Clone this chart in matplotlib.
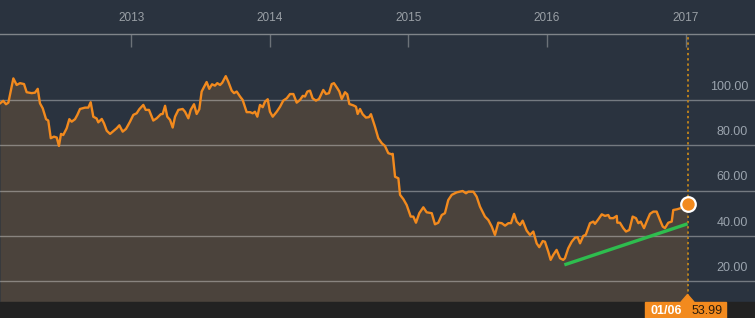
import matplotlib
matplotlib.use("Agg")
import matplotlib.pyplot as plt
from matplotlib.patches import Rectangle, Polygon

# WTI-style weekly closes, x as decimal year
years = [
    2012.052, 2012.075, 2012.095, 2012.112, 2012.148, 2012.172, 2012.196, 2012.225,
    2012.244, 2012.280, 2012.304, 2012.324, 2012.340, 2012.360, 2012.384, 2012.400,
    2012.418, 2012.441, 2012.461, 2012.477, 2012.492, 2012.508, 2012.533, 2012.552,
    2012.569, 2012.593, 2012.610, 2012.629, 2012.665, 2012.689, 2012.706, 2012.725,
    2012.749, 2012.761, 2012.786, 2012.802, 2012.822, 2012.846, 2012.869, 2012.894,
    2012.913, 2012.937, 2012.961, 2012.990, 2013.014, 2013.038, 2013.057, 2013.086,
    2013.103, 2013.127, 2013.158, 2013.183, 2013.212, 2013.226, 2013.243, 2013.259,
    2013.279, 2013.298, 2013.315, 2013.339, 2013.370, 2013.387, 2013.411, 2013.428,
    2013.452, 2013.471, 2013.490, 2013.507, 2013.543, 2013.562, 2013.582, 2013.603,
    2013.620, 2013.640, 2013.656, 2013.681, 2013.699, 2013.724, 2013.741, 2013.760,
    2013.784, 2013.803, 2013.832, 2013.856, 2013.876, 2013.892, 2013.909, 2013.928,
    2013.948, 2013.964, 2013.984, 2014.000, 2014.020, 2014.049, 2014.073, 2014.096,
    2014.121, 2014.145, 2014.169, 2014.193, 2014.217, 2014.237, 2014.253, 2014.270,
    2014.289, 2014.308, 2014.332, 2014.354, 2014.368, 2014.385, 2014.405, 2014.426,
    2014.446, 2014.462, 2014.486, 2014.501, 2014.518, 2014.542, 2014.558, 2014.573,
    2014.602, 2014.621, 2014.633, 2014.650, 2014.669, 2014.693, 2014.715, 2014.729,
    2014.758, 2014.782, 2014.807, 2014.830, 2014.854, 2014.879, 2014.886, 2014.903,
    2014.927, 2014.939, 2014.963, 2014.987, 2015.016, 2015.035, 2015.054, 2015.078,
    2015.107, 2015.131, 2015.168, 2015.191, 2015.215, 2015.240, 2015.263, 2015.287,
    2015.312, 2015.348, 2015.391, 2015.415, 2015.432, 2015.468, 2015.492, 2015.516,
    2015.552, 2015.576, 2015.601, 2015.624, 2015.648, 2015.673, 2015.697, 2015.721,
    2015.740, 2015.762, 2015.781, 2015.805, 2015.824, 2015.853, 2015.877, 2015.901,
    2015.925, 2015.944, 2015.969, 2015.985, 2016.009, 2016.026, 2016.045, 2016.069,
    2016.094, 2016.117, 2016.129, 2016.153, 2016.178, 2016.202, 2016.221, 2016.238,
    2016.262, 2016.279, 2016.310, 2016.334, 2016.346, 2016.370, 2016.395, 2016.418,
    2016.442, 2016.454, 2016.478, 2016.503, 2016.507, 2016.526, 2016.550, 2016.570,
    2016.594, 2016.618, 2016.642, 2016.659, 2016.676, 2016.700, 2016.719, 2016.743,
    2016.767, 2016.791, 2016.815, 2016.835, 2016.851, 2016.875, 2016.900, 2016.911,
    2016.936, 2016.959, 2016.983, 2017.014,
]
prices = [
    98.5, 99.6, 98.1, 98.8, 109.5, 106.6, 107.4, 107.0,
    103.4, 103.0, 103.2, 104.9, 98.5, 96.3, 91.5, 90.9,
    83.1, 83.8, 83.4, 79.7, 85.0, 84.5, 87.5, 91.5,
    90.4, 91.5, 93.4, 96.0, 96.6, 96.6, 99.0, 92.6,
    91.8, 90.1, 91.6, 89.7, 86.4, 85.0, 86.2, 87.5,
    88.8, 86.0, 87.2, 90.4, 93.4, 94.1, 95.9, 97.8,
    95.6, 95.6, 90.9, 91.9, 93.7, 93.8, 97.4, 92.6,
    91.2, 87.8, 92.6, 95.6, 96.0, 94.8, 91.9, 95.6,
    98.1, 93.8, 95.9, 103.7, 107.9, 104.9, 106.9, 106.3,
    107.4, 106.6, 107.6, 110.5, 108.1, 104.1, 103.0, 103.7,
    101.5, 100.0, 94.6, 94.6, 94.1, 94.8, 92.6, 97.8,
    96.8, 99.2, 100.3, 94.8, 92.6, 94.8, 97.0, 99.7,
    100.7, 102.6, 102.6, 98.8, 100.0, 101.8, 101.5, 103.7,
    104.1, 100.7, 99.7, 100.4, 102.2, 104.4, 102.6, 103.0,
    107.0, 107.4, 105.2, 103.7, 100.4, 103.4, 102.5, 98.2,
    97.6, 97.0, 93.8, 96.0, 93.7, 92.2, 92.4, 93.7,
    88.2, 83.1, 80.9, 79.7, 76.5, 76.0, 76.2, 66.1,
    65.4, 58.1, 56.2, 53.6, 48.5, 48.5, 45.8, 50.0,
    52.6, 50.4, 50.0, 45.1, 45.8, 49.2, 50.0, 55.8,
    58.1, 59.2, 59.8, 58.8, 59.5, 59.5, 57.3, 52.9,
    48.5, 47.0, 44.1, 40.4, 45.8, 45.6, 44.5, 45.6,
    45.6, 49.7, 46.3, 44.8, 46.7, 42.3, 40.4, 41.9,
    36.7, 35.0, 37.7, 37.4, 33.0, 29.4, 31.6, 33.8,
    30.1, 29.4, 30.1, 34.5, 37.4, 39.2, 39.4, 36.7,
    40.0, 40.4, 45.6, 46.3, 45.3, 47.3, 49.5, 48.8,
    49.2, 47.8, 47.8, 48.8, 45.8, 45.8, 43.4, 41.9,
    42.6, 48.5, 47.8, 45.6, 46.3, 43.4, 46.3, 49.7,
    50.7, 50.7, 47.0, 44.1, 43.4, 45.8, 46.3, 51.4,
    51.7, 52.1, 52.9, 53.99,
]

# trend line (green) start / end
trend_years = [2016.125, 2017.014]
trend_prices = [27.2, 45.3]

year_ticks = [2013, 2014, 2015, 2016, 2017]
year_labels = ["2013", "2014", "2015", "2016", "2017"]
price_ticks = [20, 40, 60, 80, 100]
last_date_label = "01/06"
last_price_label = "53.99"

BG = "#2a333f"
FILL = "#4b433c"
ORANGE = "#f28a1e"
FOOTER = "#222222"
FONT = ["Liberation Sans", "DejaVu Sans"]

fig = plt.figure(figsize=(7.55, 3.18), dpi=100, facecolor=BG)
ax = fig.add_axes([0, 16 / 318, 1, 268 / 318])
ax.set_facecolor(BG)
ax.set_xlim(2012.0516, 2017.501)
ax.set_ylim(10.8, 129.1)

ax.fill_between(years, prices, 10.8, color=FILL, lw=0, zorder=1)
for p in price_ticks:
    ax.axhline(p, color="white", alpha=0.35, lw=1, zorder=2)
ax.plot(years, prices, color=ORANGE, lw=1.7, zorder=3, solid_joinstyle="round")
ax.plot(trend_years, trend_prices, color="#2ebd4e", lw=2.4, zorder=4,
        solid_capstyle="butt")
ax.axvline(years[-1], color="#b8801f", lw=1.4, ls=(0, (1.2, 1.5)), zorder=3)
ax.scatter([years[-1]], [prices[-1]], s=110, color=ORANGE, edgecolor="white",
           linewidth=1.6, zorder=6)

# right-hand price labels sitting above each gridline
for p in price_ticks:
    ax.annotate(f"{p:.2f}", xy=(1, p), xycoords=("axes fraction", "data"),
                xytext=(-5, 9.4), textcoords="offset points", ha="right",
                va="center", color="#9aa3ad", fontsize=9, family=FONT)

# x axis on top
ax.xaxis.tick_top()
ax.set_xticks(year_ticks)
ax.set_xticklabels(year_labels, family=["Liberation Sans Narrow", "Liberation Sans"],
                   fontsize=8.5, color="#9aa0a6")
ax.tick_params(axis="x", direction="in", length=9.4, width=1, color="#6c7278", pad=7)
ax.set_yticks([])
for side in ["left", "right", "bottom"]:
    ax.spines[side].set_visible(False)
ax.spines["top"].set_color("#80858a")
ax.spines["top"].set_linewidth(1)

# footer strip with the current value tag
fig.patches.append(Rectangle((0, 0), 1, 16 / 318, transform=fig.transFigure,
                             color=FOOTER, zorder=0))
fx = ax.transData.transform((years[-1], 0))[0] / fig.bbox.width
fig.patches.append(Rectangle((fx - 43 / 755, 0), 81 / 755, 16 / 318,
                             transform=fig.transFigure, color=ORANGE, zorder=5))
fig.patches.append(Polygon([(fx - 6.5 / 755, 16 / 318), (fx + 6.5 / 755, 16 / 318),
                            (fx, 23.5 / 318)], closed=True,
                           transform=fig.transFigure, color=ORANGE, zorder=5))
fig.text(fx - 6 / 755, 7.5 / 318, last_date_label, ha="right", va="center",
         color="white", fontsize=9, fontweight="bold", family=FONT, zorder=7)
fig.text(fx + 4 / 755, 7.5 / 318, last_price_label, ha="left", va="center",
         color="#2b1d0e", fontsize=9, family=FONT, zorder=7)

fig.savefig("out.png", dpi=100, facecolor=BG)
